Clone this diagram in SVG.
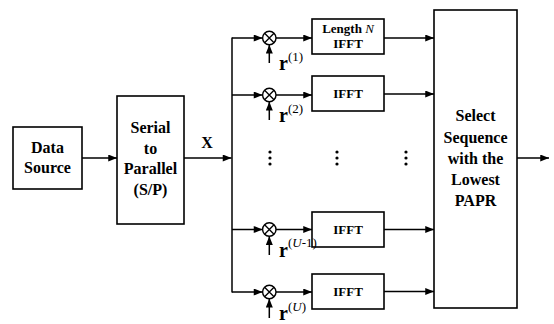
<svg xmlns="http://www.w3.org/2000/svg" width="554" height="324" viewBox="0 0 554 324">
<defs>
<marker id="ah" viewBox="0 0 10 8" refX="10" refY="4" markerWidth="10" markerHeight="7" markerUnits="userSpaceOnUse" orient="auto">
<path d="M0 0 L10 4 L0 8 Z" fill="#000"/>
</marker>
<g id="mult">
<circle cx="0" cy="0" r="6.7" fill="#fff" stroke="#000" stroke-width="1.4"/>
<path d="M-4.7 -4.7 L4.7 4.7 M4.7 -4.7 L-4.7 4.7" stroke="#000" stroke-width="1.3"/>
</g>
</defs>
<style>
.box{fill:#fff;stroke:#000;stroke-width:1.6}
.ln{fill:none;stroke:#000;stroke-width:1.5}
.ar{fill:none;stroke:#000;stroke-width:1.5;marker-end:url(#ah)}
.t{font-family:"Liberation Serif","Times New Roman",serif;font-weight:bold;font-size:16px;text-anchor:middle;fill:#000}
.s{font-family:"Liberation Serif","Times New Roman",serif;font-weight:bold;font-size:13px;text-anchor:middle;fill:#000}
.r{font-family:"Liberation Serif","Times New Roman",serif;font-weight:bold;font-size:20px;fill:#000}
.sup{font-family:"Liberation Serif","Times New Roman",serif;font-weight:normal;font-size:13px;fill:#000}
.it{font-style:italic;font-weight:normal}
</style>
<g id="connectors">
<path class="ar" d="M82 158 H117"/>
<path class="ar" d="M184 158 H231.5"/>
<path class="ln" d="M232 37.5 V292.5"/>
<path class="ar" d="M232 38 H262.5"/>
<path class="ar" d="M232 95 H262.5"/>
<path class="ar" d="M232 229.5 H262.5"/>
<path class="ar" d="M232 292 H262.5"/>
<path class="ar" d="M276 38 H312"/>
<path class="ar" d="M276 95 H312"/>
<path class="ar" d="M276 229.5 H312"/>
<path class="ar" d="M276 292 H312"/>
<path class="ar" d="M269.3 63 V44.7"/>
<path class="ar" d="M269.3 120 V101.7"/>
<path class="ar" d="M269.3 255 V236.2"/>
<path class="ar" d="M269.3 318 V298.7"/>
<path class="ar" d="M384 38 H434"/>
<path class="ar" d="M384 94 H434"/>
<path class="ar" d="M384 229.5 H434"/>
<path class="ar" d="M384 291.5 H434"/>
<path class="ar" d="M517 158 H549"/>
</g>
<g id="data-source">
<rect class="box" x="13" y="127" width="69" height="62"/>
<text class="t" x="47.5" y="153">Data</text>
<text class="t" x="47.5" y="173">Source</text>
</g>
<g id="serial-to-parallel">
<rect class="box" x="117" y="96" width="67" height="128"/>
<text class="t" x="150.5" y="133">Serial</text>
<text class="t" x="150.5" y="153.5">to</text>
<text class="t" x="150.5" y="174">Parallel</text>
<text class="t" x="150.5" y="195">(S/P)</text>
</g>
<text class="t" x="207" y="148">X</text>
<g id="mult1"><use href="#mult" x="269.3" y="38"/></g>
<g id="mult2"><use href="#mult" x="269.3" y="95"/></g>
<g id="mult3"><use href="#mult" x="269.3" y="229.5"/></g>
<g id="mult4"><use href="#mult" x="269.3" y="292"/></g>
<g id="ifft1">
<rect class="box" x="312" y="19" width="72" height="35"/>
<text class="s" x="348" y="33">Length <tspan class="it">N</tspan></text>
<text class="s" x="348" y="48">IFFT</text>
</g>
<g id="ifft2">
<rect class="box" x="312" y="76" width="72" height="35"/>
<text class="s" x="348" y="98">IFFT</text>
</g>
<g id="ifft3">
<rect class="box" x="312" y="212" width="72" height="35"/>
<text class="s" x="348" y="234">IFFT</text>
</g>
<g id="ifft4">
<rect class="box" x="312" y="274" width="72" height="35"/>
<text class="s" x="348" y="296">IFFT</text>
</g>
<g id="r-labels">
<text x="279" y="69.5"><tspan class="r">r</tspan><tspan class="sup" dy="-9">(1)</tspan></text>
<text x="279" y="122"><tspan class="r">r</tspan><tspan class="sup" dy="-9">(2)</tspan></text>
<text x="279" y="257"><tspan class="r">r</tspan><tspan class="sup" dy="-10">(<tspan class="it">U</tspan>-1)</tspan></text>
<text x="279" y="320"><tspan class="r">r</tspan><tspan class="sup" dy="-9">(<tspan class="it">U</tspan>)</tspan></text>
</g>
<g id="dots">
<circle cx="270" cy="152" r="1.6"/><circle cx="270" cy="158" r="1.6"/><circle cx="270" cy="164" r="1.6"/>
<circle cx="337" cy="152" r="1.6"/><circle cx="337" cy="158" r="1.6"/><circle cx="337" cy="164" r="1.6"/>
<circle cx="406" cy="152" r="1.6"/><circle cx="406" cy="158" r="1.6"/><circle cx="406" cy="164" r="1.6"/>
</g>
<g id="select">
<rect class="box" x="434" y="10" width="83" height="298"/>
<text class="t" x="475.5" y="121">Select</text>
<text class="t" x="475.5" y="143">Sequence</text>
<text class="t" x="475.5" y="164">with the</text>
<text class="t" x="475.5" y="185">Lowest</text>
<text class="t" x="475.5" y="206">PAPR</text>
</g>
</svg>
